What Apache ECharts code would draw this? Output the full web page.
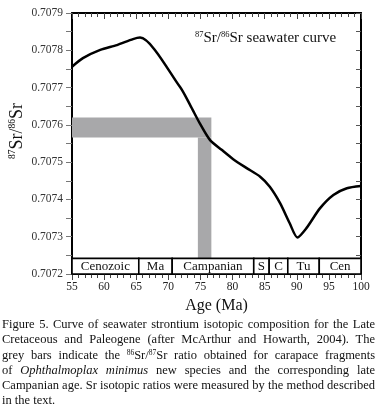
<!DOCTYPE html>
<html>
<head>
<meta charset="utf-8">
<script src="https://cdn.jsdelivr.net/npm/echarts@6/dist/echarts.min.js"></script>
<style>
  html, body { margin: 0; padding: 0; background: #fff; }
  #wrap { position: relative; width: 377px; height: 412px; overflow: hidden; }
  #chart { position: absolute; left: 0; top: 0; width: 377px; height: 412px; }
  #caption {
    position: absolute; left: 2px; top: 317px; width: 373px;
    font-family: "Liberation Serif", serif; font-size: 12.5px; line-height: 15.3px; color: #111;
  }
  #caption div { text-align: justify; text-align-last: justify; white-space: nowrap; }
  #caption div.last { text-align-last: left; }
  #caption sup { font-size: 7.5px; vertical-align: 4px; line-height: 0; }
</style>
</head>
<body>
<div id="wrap">
  <div id="chart"></div>
  <div id="caption">
    <div>Figure 5. Curve of seawater strontium isotopic composition for the Late</div>
    <div>Cretaceous and Paleogene (after McArthur and Howarth, 2004). The</div>
    <div>grey bars indicate the <sup>86</sup>Sr/<sup>87</sup>Sr ratio obtained for carapace fragments</div>
    <div>of <i>Ophthalmoplax minimus</i> new species and the corresponding late</div>
    <div>Campanian age. Sr isotopic ratios were measured by the method described</div>
    <div class="last">in the text.</div>
  </div>
</div>
<script>
// seawater curve (age in Ma, 87Sr/86Sr)
const ages = [55, 56.7, 59.4, 62.0, 64.5, 65.6, 71.8, 73.4, 74.9, 76.5, 78.3, 80.1, 82.2, 84.3, 85.8, 87.4, 88.9, 90.1, 91.5, 93.6, 95.7, 97.8, 100]
const srRatio = [0.707756, 0.707779, 0.707801, 0.707814, 0.70783, 0.707834, 0.707702, 0.707653, 0.707604, 0.707559, 0.707533, 0.707508, 0.707484, 0.707461, 0.707434, 0.70739, 0.707336, 0.707298, 0.707323, 0.707376, 0.707412, 0.70743, 0.707436]

// stage band along the bottom
const stageNames = ['Cenozoic', 'Ma', 'Campanian', 'S', 'C', 'Tu', 'Cen']
const stageBounds = [55, 65.4, 70.6, 83.3, 85.7, 88.6, 93.5, 100]
const bandRatio = [0.7072, 0.707242]

// grey bars: measured ratio and corresponding age
const barAge = [74.6, 76.7]
const barRatio = [0.707566, 0.70762]

const serif = '"Liberation Serif", "Times New Roman", serif'
const chart = echarts.init(document.getElementById('chart'))

const stageAreas = stageNames.map((name, i) => [
  { name: name, coord: [stageBounds[i], bandRatio[0]] },
  { coord: [stageBounds[i + 1], bandRatio[1]] }
])

const greyAreas = [
  [{ coord: [55, barRatio[0]] }, { coord: [barAge[1], barRatio[1]] }],
  [{ coord: [barAge[0], bandRatio[1]] }, { coord: [barAge[1], barRatio[0]] }]
]

chart.setOption({
  animation: false,
  grid: { left: 72, right: 16, top: 13, bottom: 138, outerBoundsMode: 'none', containLabel: false },
  xAxis: [{
    type: 'value',
    min: 55,
    max: 100,
    interval: 5,
    name: 'Age (Ma)',
    nameLocation: 'middle',
    nameGap: 24,
    nameTextStyle: { fontFamily: serif, fontSize: 16, color: '#111' },
    axisLine: { lineStyle: { color: '#000', width: 2 } },
    axisTick: { inside: false, length: 6, lineStyle: { color: '#444' } },
    minorTick: { show: true, splitNumber: 5, length: 4, lineStyle: { color: '#444' } },
    axisLabel: { fontFamily: serif, fontSize: 11.5, color: '#222', margin: 7 },
    splitLine: { show: false }
  }, {
    type: 'value',
    position: 'top',
    min: 55,
    max: 100,
    interval: 5,
    axisLine: { lineStyle: { color: '#000', width: 2 } },
    axisTick: { inside: true, length: 6, lineStyle: { color: '#444' } },
    minorTick: { show: true, splitNumber: 5, length: 4, lineStyle: { color: '#444' } },
    axisLabel: { show: false },
    splitLine: { show: false }
  }],
  yAxis: [{
    type: 'value',
    min: 0.7072,
    max: 0.7079,
    interval: 0.0001,
    axisLine: { lineStyle: { color: '#000', width: 2 } },
    axisTick: { inside: false, length: 6, lineStyle: { color: '#777' } },
    minorTick: { show: true, splitNumber: 2, length: 6, lineStyle: { color: '#777' } },
    axisLabel: { fontFamily: serif, fontSize: 11.5, color: '#333', margin: 9, formatter: v => v.toFixed(4) },
    splitLine: { show: false }
  }, {
    type: 'value',
    position: 'right',
    min: 0.7072,
    max: 0.7079,
    interval: 0.0001,
    axisLine: { lineStyle: { color: '#000', width: 2 } },
    axisTick: { inside: true, length: 5, lineStyle: { color: '#555' } },
    minorTick: { show: true, splitNumber: 2, length: 5, lineStyle: { color: '#555' } },
    axisLabel: { show: false },
    splitLine: { show: false }
  }],
  graphic: [{
    type: 'text',
    x: 17,
    y: 131,
    rotation: Math.PI / 2,
    style: {
      text: '{sup|87}{b|Sr/}{sup|86}{b|Sr}',
      align: 'center',
      verticalAlign: 'middle',
      rich: {
        b: { fontFamily: serif, fontSize: 18, fill: '#111', lineHeight: 19 },
        sup: { fontFamily: serif, fontSize: 9.5, fill: '#111', verticalAlign: 'top', lineHeight: 19, padding: [0, 0, 8, 0] }
      }
    }
  }, {
    type: 'text',
    left: 195,
    top: 30,
    style: {
      text: '{sup|87}{b|Sr/}{sup|86}{b|Sr seawater curve}',
      rich: {
        b: { fontFamily: serif, fontSize: 15, fill: '#111', lineHeight: 16 },
        sup: { fontFamily: serif, fontSize: 8.5, fill: '#111', verticalAlign: 'top', lineHeight: 16, padding: [0, 0, 7, 0] }
      }
    }
  }],
  series: [{
    type: 'line',
    data: [],
    markArea: {
      silent: true,
      itemStyle: { color: '#a8a8aa' },
      data: greyAreas
    }
  }, {
    type: 'line',
    data: [],
    markArea: {
      silent: true,
      itemStyle: { color: '#fff', borderColor: '#000', borderWidth: 1.6 },
      label: { show: true, position: 'inside', fontFamily: serif, fontSize: 13, color: '#111' },
      data: stageAreas
    }
  }, {
    type: 'line',
    data: ages.map((a, i) => [a, srRatio[i]]),
    smooth: 0.25,
    showSymbol: false,
    z: 5,
    lineStyle: { color: '#000', width: 2.5 }
  }]
})
</script>
</body>
</html>
